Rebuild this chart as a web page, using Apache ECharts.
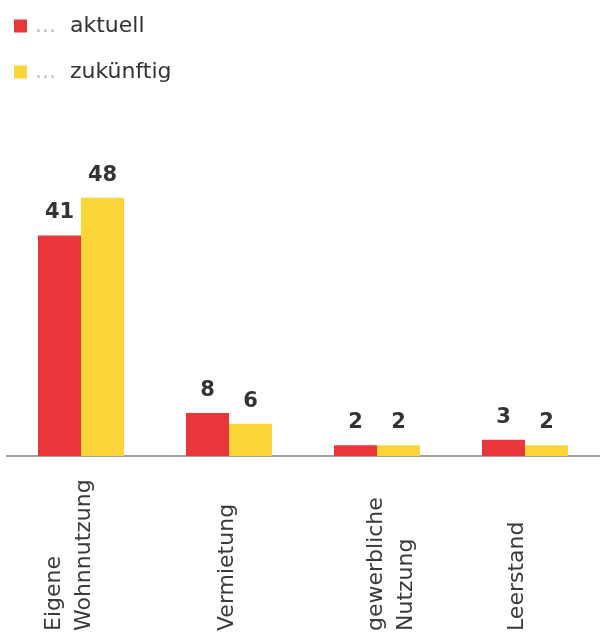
<!DOCTYPE html>
<html>
<head>
<meta charset="utf-8">
<title>Nutzung</title>
<script src="https://cdn.jsdelivr.net/npm/echarts@6/dist/echarts.min.js"></script>
<style>
  html, body { margin: 0; padding: 0; background: #fff; }
  #chart { width: 602px; height: 633px; }
</style>
</head>
<body>
<div id="chart"></div>
<script>
// Nutzungsarten: aktuell vs. zukünftig
const categories = ['Eigene\nWohnnutzung', 'Vermietung', 'gewerbliche\nNutzung', 'Leerstand'];
const seriesNames = ['aktuell', 'zukünftig'];
const aktuell = [41, 8, 2, 3];
const zukuenftig = [48, 6, 2, 2];

const FONT = '"DejaVu Sans", "Liberation Sans", sans-serif';
const RED = '#e9363b';
const YELLOW = '#fcd638';

const chart = echarts.init(document.getElementById('chart'), null, { renderer: 'canvas' });

const barLabel = {
  show: true,
  position: 'top',
  distance: 12,
  fontFamily: FONT,
  fontWeight: 'bold',
  fontSize: 21,
  color: '#333333'
};

const labelText = { fontFamily: FONT, fontSize: 22, lineHeight: 30, color: '#3a3a3a' };

// Rotated category labels. A blank spacer line before/after the text nudges
// the centred label block right (spacer first) or left (spacer last).
const axisRich = {
  n: Object.assign({}, labelText),
  s4: { fontSize: 4, lineHeight: 4 },
  s16: { fontSize: 4, lineHeight: 16 },
  s24: { fontSize: 4, lineHeight: 24 },
  s28: { fontSize: 4, lineHeight: 28 }
};
const spacers = [{ after: 's24' }, { after: 's4' }, { before: 's28' }, { after: 's16' }];

function axisLabelFormatter(value, index) {
  const sp = spacers[index] || {};
  const lines = value.split('\n').map(line => '{n|' + line + '}');
  if (sp.before) lines.unshift('{' + sp.before + '| }');
  if (sp.after) lines.push('{' + sp.after + '| }');
  return lines.join('\n');
}

chart.setOption({
  animation: false,
  backgroundColor: '#ffffff',
  legend: {
    orient: 'vertical',
    left: 14,
    top: 13,
    padding: 0,
    itemGap: 20,
    itemWidth: 13,
    itemHeight: 13,
    icon: 'rect',
    data: seriesNames,
    formatter: name => '{d|...}{t|' + name + '}',
    textStyle: {
      fontFamily: FONT,
      fontSize: 22,
      lineHeight: 26,
      color: '#333333',
      rich: {
        d: { fontFamily: FONT, fontSize: 22, lineHeight: 26, color: '#bdbdbd', padding: [0, 14, 0, 3] },
        t: { fontFamily: FONT, fontSize: 22, lineHeight: 26, color: '#333333' }
      }
    }
  },
  grid: {
    left: 7,
    right: 3,
    top: 187,
    bottom: 177,
    outerBoundsMode: 'none'
  },
  xAxis: {
    type: 'category',
    data: categories,
    axisLine: { show: true, lineStyle: { color: '#a0a0a0', width: 2 } },
    axisTick: { show: false },
    axisLabel: {
      interval: 0,
      rotate: 90,
      align: 'left',
      verticalAlign: 'middle',
      margin: 175,
      fontFamily: FONT,
      fontSize: 22,
      lineHeight: 30,
      color: '#3a3a3a',
      formatter: axisLabelFormatter,
      rich: axisRich
    }
  },
  yAxis: {
    type: 'value',
    min: 0,
    max: 50,
    show: false,
    splitLine: { show: false }
  },
  series: [
    {
      name: seriesNames[0],
      type: 'bar',
      data: aktuell,
      barWidth: 43,
      barGap: '0%',
      itemStyle: { color: RED },
      label: barLabel
    },
    {
      name: seriesNames[1],
      type: 'bar',
      data: zukuenftig,
      barWidth: 43,
      barGap: '0%',
      itemStyle: { color: YELLOW },
      label: barLabel
    }
  ]
});
</script>
</body>
</html>
